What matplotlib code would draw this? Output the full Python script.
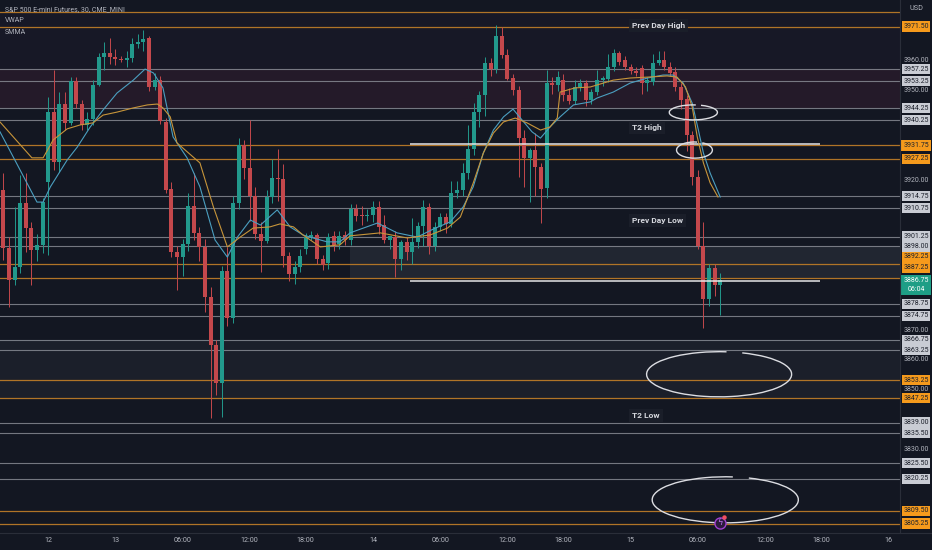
import numpy as np
import matplotlib.pyplot as plt
from matplotlib.patches import Arc

# ES 30 min candles, bar index -8 .. 120 ("12" label = bar 0)
first_bar = -8
opens = [
    3916.9, 3897.5, 3886.8, 3891.1, 3912.5, 3904.1, 3896.8, 3898.5,
    3919.6, 3943.0, 3926.3, 3945.6, 3939.3, 3953.3, 3945.6, 3938.6, 3940.6, 3952.0,
    3961.3, 3962.7, 3961.3, 3960.7, 3960.3, 3960.9, 3965.7, 3966.2, 3967.7, 3951.3,
    3953.6, 3939.6, 3917.2, 3896.1, 3894.4, 3898.8, 3911.5, 3902.5, 3897.8, 3881.0,
    3865.0, 3852.3, 3889.8, 3874.0, 3912.5, 3931.9, 3924.2, 3914.9, 3902.2, 3899.8,
    3914.5, 3920.9, 3920.5, 3894.8, 3888.8, 3891.1, 3897.1, 3901.1, 3901.8, 3893.8,
    3892.4, 3901.4, 3898.8, 3901.8, 3900.1, 3910.5, 3908.2, 3908.0, 3908.5, 3911.2,
    3905.0, 3900.1, 3901.1, 3893.8, 3899.5, 3896.1, 3899.5, 3904.8, 3911.2, 3898.1,
    3904.5, 3907.8, 3905.5, 3915.9, 3916.9, 3922.5, 3930.6, 3943.0, 3948.6, 3959.3,
    3957.3, 3968.4, 3962.0, 3954.3, 3950.3, 3934.2, 3927.5, 3930.2, 3924.5, 3917.5,
    3952.6, 3951.8, 3953.6, 3948.6, 3946.5, 3951.3, 3952.5, 3947.0, 3949.6, 3953.6,
    3954.0, 3958.0, 3962.7, 3960.3, 3958.0, 3956.7, 3957.7, 3952.6, 3953.0, 3959.3,
    3960.3, 3958.0, 3956.3, 3951.3, 3947.3, 3935.3, 3921.2, 3898.1, 3880.4, 3890.8,
    3885.1,
]
highs = [
    3922.5, 3901.0, 3911.0, 3922.0, 3922.5, 3906.2, 3902.0, 3914.2,
    3948.0, 3957.0, 3949.6, 3949.6, 3954.6, 3954.6, 3947.0, 3943.0, 3953.6, 3962.7,
    3966.4, 3967.7, 3964.0, 3961.5, 3963.5, 3967.7, 3969.0, 3970.5, 3968.4, 3956.0,
    3955.0, 3941.0, 3919.5, 3898.0, 3900.5, 3915.9, 3922.5, 3904.5, 3900.5, 3884.5,
    3866.5, 3891.5, 3897.8, 3915.0, 3934.2, 3933.6, 3940.3, 3918.0, 3906.0, 3917.0,
    3927.3, 3930.5, 3925.5, 3896.0, 3893.0, 3897.0, 3902.5, 3903.0, 3902.5, 3895.0,
    3902.5, 3903.0, 3903.0, 3903.0, 3912.0, 3912.0, 3911.5, 3910.5, 3913.0, 3913.0,
    3908.5, 3901.5, 3903.0, 3900.0, 3901.0, 3907.5, 3906.0, 3913.5, 3912.5, 3906.0,
    3909.0, 3909.0, 3920.0, 3920.0, 3926.0, 3938.5, 3946.0, 3950.0, 3961.3, 3961.0,
    3972.0, 3971.3, 3964.0, 3955.5, 3951.5, 3937.0, 3931.0, 3936.0, 3926.0, 3957.0,
    3954.5, 3956.5, 3955.5, 3951.0, 3953.5, 3954.0, 3953.5, 3950.5, 3957.0, 3955.0,
    3962.5, 3964.0, 3963.5, 3961.5, 3959.0, 3958.0, 3958.5, 3954.5, 3962.5, 3963.5,
    3963.5, 3959.5, 3958.0, 3952.5, 3948.5, 3936.5, 3923.5, 3906.0, 3892.0, 3892.0,
    3889.0,
]
lows = [
    3893.4, 3877.7, 3885.0, 3889.0, 3896.0, 3885.0, 3893.0, 3895.8,
    3895.0, 3923.5, 3922.9, 3936.9, 3938.6, 3944.3, 3936.9, 3937.0, 3938.5, 3951.5,
    3957.0, 3959.0, 3958.7, 3959.5, 3958.0, 3959.5, 3964.5, 3963.5, 3950.0, 3950.3,
    3939.0, 3916.0, 3894.5, 3883.4, 3888.0, 3896.5, 3900.0, 3893.0, 3876.0, 3840.6,
    3848.3, 3840.9, 3871.2, 3872.5, 3910.5, 3920.5, 3906.5, 3900.5, 3889.5, 3899.0,
    3912.5, 3913.0, 3891.0, 3886.5, 3885.5, 3889.5, 3895.5, 3900.0, 3892.0, 3890.0,
    3890.5, 3896.5, 3897.0, 3898.5, 3898.5, 3906.5, 3905.0, 3906.5, 3906.0, 3902.0,
    3899.0, 3897.0, 3887.8, 3890.0, 3893.5, 3892.0, 3897.5, 3898.0, 3895.5, 3896.5,
    3903.0, 3902.5, 3904.5, 3914.0, 3915.0, 3920.5, 3928.5, 3938.0, 3941.5, 3955.0,
    3956.0, 3961.0, 3953.5, 3948.5, 3921.2, 3918.0, 3912.9, 3915.0, 3905.8, 3914.0,
    3949.0, 3950.0, 3946.5, 3945.5, 3945.5, 3950.0, 3945.0, 3945.5, 3948.5, 3951.5,
    3953.0, 3956.5, 3958.5, 3957.0, 3955.5, 3955.0, 3949.0, 3950.0, 3952.0, 3958.5,
    3957.0, 3955.0, 3950.0, 3944.0, 3930.0, 3918.5, 3897.0, 3870.7, 3878.0, 3881.5,
    3875.0,
]
closes = [
    3897.5, 3886.8, 3891.1, 3912.5, 3904.1, 3896.8, 3898.5, 3912.8,
    3943.0, 3926.3, 3945.6, 3939.3, 3953.3, 3945.6, 3938.6, 3940.6, 3952.0, 3961.3,
    3962.7, 3961.3, 3960.7, 3960.3, 3960.9, 3965.7, 3966.2, 3967.3, 3951.3, 3953.6,
    3940.0, 3916.9, 3896.1, 3894.4, 3898.8, 3911.5, 3902.5, 3897.8, 3881.0, 3865.0,
    3852.3, 3889.8, 3874.0, 3912.5, 3931.9, 3924.2, 3914.9, 3902.2, 3899.8, 3914.5,
    3920.9, 3920.5, 3894.8, 3888.8, 3891.1, 3894.8, 3901.1, 3901.8, 3893.8, 3891.8,
    3901.1, 3898.5, 3901.4, 3900.1, 3910.5, 3908.2, 3908.0, 3908.3, 3911.2, 3904.5,
    3900.1, 3901.4, 3893.8, 3899.5, 3896.1, 3899.5, 3904.8, 3911.2, 3898.1, 3904.5,
    3907.8, 3905.5, 3915.9, 3916.9, 3922.5, 3930.6, 3943.0, 3948.6, 3959.3, 3957.3,
    3968.4, 3962.0, 3954.0, 3950.3, 3934.2, 3927.5, 3930.2, 3924.5, 3917.2, 3952.6,
    3951.8, 3954.6, 3948.6, 3946.5, 3951.3, 3952.5, 3947.0, 3949.6, 3953.6, 3954.3,
    3958.0, 3962.7, 3959.7, 3958.0, 3956.7, 3956.0, 3952.6, 3953.6, 3959.3, 3960.3,
    3958.0, 3956.0, 3951.3, 3947.0, 3935.3, 3921.2, 3898.1, 3880.4, 3890.8, 3885.1,
    3886.75,
]

# indicator lines (bar position, price)
vwap_bar = [-8.6, -2.0, -0.9, 0.4, 3.4, 5.2, 7.5, 9.8, 12.3, 15.2, 17.3, 18.8, 20.5,
            22.3, 24.8, 27.1, 29.8, 32.0, 33.8, 36.1, 37.9, 40.9, 43.2, 45.5, 47.3,
            49.8, 52.1, 53.9, 58.8, 62.3, 65.9, 68.8, 71.8, 74.1, 75.9, 77.7, 79.5,
            81.3, 83.0, 84.6, 86.4, 87.9, 89.6, 91.4, 93.8, 96.8, 98.0, 100.9, 103.9,
            107.0, 109.8, 111.6, 113.4, 115.0, 116.1, 117.0, 118.2, 120.0]
vwap_price = [3936.3, 3912.8, 3912.8, 3917.9, 3926.9, 3931.2, 3937.9, 3943.6, 3949.3,
              3953.6, 3957.3, 3956.0, 3951.0, 3934.6, 3927.6, 3917.9, 3900.1, 3894.4,
              3901.1, 3906.8, 3905.1, 3910.2, 3904.5, 3901.8, 3900.8, 3899.5, 3899.5,
              3902.5, 3905.8, 3902.5, 3901.1, 3903.8, 3906.2, 3911.2, 3917.9, 3929.2,
              3936.9, 3941.3, 3943.9, 3940.3, 3936.3, 3934.2, 3937.9, 3941.3, 3945.3,
              3946.3, 3947.6, 3949.6, 3952.6, 3954.3, 3955.3, 3955.3, 3952.6, 3945.9,
              3936.9, 3929.2, 3922.5, 3914.5]
smma_bar = [-8.6, -2.9, -0.9, 0.9, 3.4, 5.7, 8.0, 9.8, 12.3, 15.2, 17.7, 19.5, 20.5,
            21.8, 23.0, 27.1, 29.5, 32.0, 34.3, 36.6, 39.6, 41.4, 43.8, 45.5, 48.6,
            52.1, 53.9, 59.3, 64.1, 68.2, 71.3, 73.6, 75.9, 77.7, 79.5, 81.3, 83.4,
            85.5, 87.9, 89.6, 90.9, 91.4, 94.1, 96.8, 100.9, 103.9, 107.0, 110.5,
            112.3, 113.8, 115.0, 115.9, 117.0, 118.2, 119.6]
smma_price = [3939.6, 3927.6, 3927.6, 3933.6, 3937.3, 3938.6, 3939.3, 3941.9, 3942.9,
              3944.3, 3945.3, 3945.6, 3944.3, 3941.3, 3932.6, 3925.9, 3911.2, 3897.8,
              3901.1, 3904.1, 3904.5, 3905.5, 3904.5, 3901.8, 3897.8, 3898.5, 3901.5,
              3902.5, 3900.8, 3901.8, 3904.1, 3907.8, 3919.2, 3929.2, 3935.9, 3939.6,
              3940.9, 3939.3, 3936.9, 3937.9, 3940.9, 3949.6, 3951.0, 3951.3, 3953.6,
              3954.3, 3954.6, 3955.0, 3954.6, 3951.3, 3944.6, 3934.6, 3925.9, 3919.2,
              3914.5]

gray_levels = [3957.25, 3953.25, 3944.25, 3940.25, 3914.75, 3910.75, 3901.25, 3898.00,
               3878.75, 3874.75, 3866.75, 3863.25, 3839.00, 3835.50, 3825.50, 3820.25]
orange_levels = [3976.25, 3971.50, 3931.75, 3927.25, 3892.25, 3887.25, 3853.25,
                 3847.25, 3809.50, 3805.25]
axis_prices = [3960, 3950, 3920, 3870, 3860, 3850, 3830]
last_price = 3886.75
countdown = '06:04'

tick_bars = [0, 12, 24, 36, 46, 58, 70, 82, 92, 104, 116, 128, 138, 150]
tick_labels = ['12', '13', '06:00', '12:00', '18:00', '14', '06:00', '12:00', '18:00',
               '15', '06:00', '12:00', '18:00', '16']

note_texts = ['Prev Day High', 'T2 High', 'Prev Day Low', 'T2 Low']
note_prices = [3972.0, 3937.6, 3906.5, 3841.3]
note_bar = 104.3

trend_start, trend_end = 64.6, 137.9
trend_prices = [3932.1, 3886.5]

ell_bar = [115.2, 115.4, 119.8, 120.9]
ell_price = [3942.8, 3930.2, 3855.2, 3813.2]
ell_w = [8.6, 6.4, 25.9, 26.1]
ell_h = [5.0, 5.4, 15.1, 15.4]

BG = '#131722'
TEAL = '#22998c'
RED = '#c4484c'
TXT = '#b2b5be'

fig = plt.figure(figsize=(9.32, 5.5), dpi=100, facecolor=BG)
ax = fig.add_axes([0, 17 / 550, 900 / 932, 533 / 550])
ax.set_facecolor(BG)
ax.set_xlim(-8.6, 152.1)
ax.set_ylim(3802.1, 3980.4)
for s in ax.spines.values():
    s.set_visible(False)

# zones
ax.axhspan(3944.25, 3957.25, color='#3a1f33', alpha=0.45, lw=0, zorder=0)
ax.axhspan(3957.25, 3976.25, color='#221c30', alpha=0.3, lw=0, zorder=0)
ax.axhspan(3847.25, 3866.75, color='#1c212c', alpha=0.9, lw=0, zorder=0)
ax.fill_between([53.9, 152.1], 3887.25, 3898.0, color='#252a36', alpha=0.8, lw=0, zorder=0)

for lv in gray_levels:
    ax.axhline(lv, color='#8d9099', lw=0.8, alpha=0.8, zorder=1)
for lv in orange_levels:
    ax.axhline(lv, color='#b07427', lw=0.9, zorder=1)

ax.hlines(trend_prices, trend_start, trend_end, color='#e6e6e6', lw=1.1, zorder=4)

# candles
bars = np.arange(first_bar, first_bar + len(opens))
o, h, l, c = map(np.array, (opens, highs, lows, closes))
col = np.where(c >= o, TEAL, RED)
ax.vlines(bars, l, h, colors=col, lw=0.7, zorder=2)
ax.bar(bars, np.maximum(np.abs(c - o), 0.4), bottom=np.minimum(o, c), width=0.7,
       color=col, lw=0, zorder=3)

ax.plot(vwap_bar, vwap_price, color='#4b9fc0', lw=0.8, zorder=4)
ax.plot(smma_bar, smma_price, color='#c7953a', lw=0.8, zorder=4)

for txt, p in zip(note_texts, note_prices):
    ax.text(note_bar, p, txt, fontsize=6, fontweight='bold', color='#d6d8de',
            family='Roboto', va='center', ha='left', zorder=6,
            bbox=dict(boxstyle='square,pad=0.35', fc='#1b1f2a', ec='none', alpha=0.9))

for cx, cy, w, hh in zip(ell_bar, ell_price, ell_w, ell_h):
    ax.add_patch(Arc((cx, cy), w, hh, theta1=80, theta2=420, color='#dcdde2',
                     lw=1.0, zorder=6))

# alert icon on the last bar
ax.plot(bars[-1], 3805.6, 'o', ms=8, mfc='#2b1b3d', mec='#a03fd0', mew=1.0, zorder=7)
ax.text(bars[-1], 3805.6, 'ϟ', color='#c070f0', fontsize=6, ha='center', va='center', zorder=8)
ax.plot(bars[-1] + 0.7, 3807.3, 'o', ms=2.2, color='#f05060', zorder=8)

ax.set_yticks([])
ax.set_xticks(tick_bars, tick_labels)
ax.tick_params(axis='x', length=0, pad=3, labelsize=5.2, labelcolor=TXT)
for t in ax.get_xticklabels():
    t.set_family('Roboto')

# price scale; labels near the live price get pushed up like on the platform
label_shift = {3892.25: 2.2, 3887.25: 3.6}
tr = ax.get_yaxis_transform()
xs = 916 / 900
for p in axis_prices:
    ax.text(xs, p, f'{p:.2f}', transform=tr, fontsize=5, color=TXT, family='Roboto',
            ha='center', va='center', clip_on=False)
for lv in gray_levels:
    ax.text(xs, lv, f'{lv:.2f}', transform=tr, fontsize=5, color='#1e222d',
            family='Roboto', ha='center', va='center', clip_on=False, zorder=9,
            bbox=dict(boxstyle='square,pad=0.25', fc='#c9ccd4', ec='none'))
for lv in orange_levels:
    if lv > 3975:
        continue
    ax.text(xs, lv + label_shift.get(lv, 0), f'{lv:.2f}', transform=tr, fontsize=5,
            color='#1e222d', family='Roboto', ha='center', va='center', clip_on=False,
            zorder=9, bbox=dict(boxstyle='square,pad=0.25', fc='#f59a1c', ec='none'))
ax.text(xs, last_price + 0.9, f'{last_price:.2f}\n{countdown}', transform=tr, fontsize=5,
        color='white', family='Roboto', ha='center', va='top', clip_on=False, zorder=10,
        linespacing=1.3, bbox=dict(boxstyle='square,pad=0.3', fc='#1e9e86', ec='none'))
fig.text(910 / 932, 1 - 9 / 550, 'USD', fontsize=5.2, color=TXT, family='Roboto',
         va='center')

# header
fig.text(5 / 932, 1 - 10 / 550, 'S&P 500 E-mini Futures, 30, CME_MINI', fontsize=5.0,
         color=TXT, family='Roboto', va='center')
fig.text(5 / 932, 1 - 21 / 550, 'VWAP', fontsize=5.0, color=TXT, family='Roboto', va='center')
fig.text(5 / 932, 1 - 32 / 550, 'SMMA', fontsize=5.0, color=TXT, family='Roboto', va='center')

fig.add_artist(plt.Line2D([900 / 932, 900 / 932], [17 / 550, 1], color='#2a2e39', lw=0.8))
fig.add_artist(plt.Line2D([0, 1], [17 / 550, 17 / 550], color='#2a2e39', lw=0.8))

fig.savefig('out.png', dpi=100, facecolor=BG)
